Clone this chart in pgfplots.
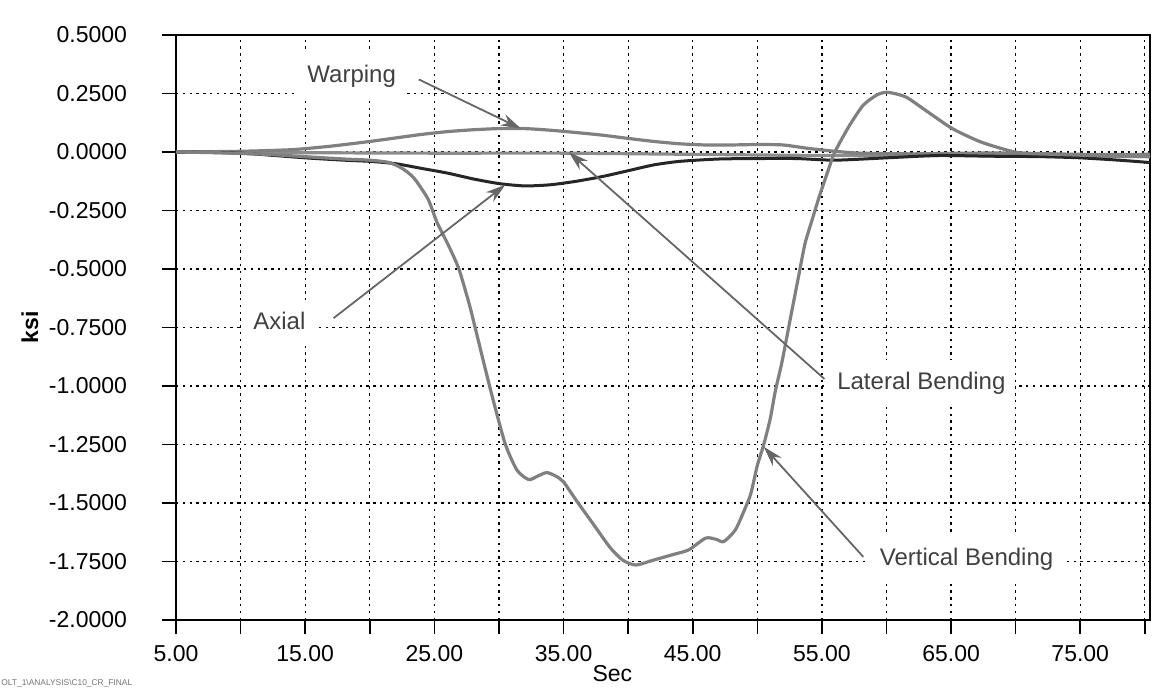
\documentclass[border=0pt]{standalone}
\usepackage{fontspec}
\setmainfont{Liberation Sans}
\usepackage{pgfplots}
\usepackage{pgfplotstable}
\pgfplotsset{compat=1.18}
\usetikzlibrary{arrows.meta}

\pgfplotstableread{
x y
5 0
8 -0.003
12 -0.01
15 -0.02
18 -0.03
20 -0.035
21.5 -0.045
22.5 -0.07
23.4 -0.11
24.5 -0.20
25.2 -0.30
26.1 -0.40
26.9 -0.50
27.7 -0.65
28.2 -0.76
29.0 -0.94
29.6 -1.07
30.5 -1.25
31.4 -1.36
32.3 -1.40
33.0 -1.385
33.7 -1.37
34.4 -1.385
35.0 -1.41
36.0 -1.49
37.3 -1.59
38.6 -1.69
39.6 -1.745
40.6 -1.765
41.9 -1.745
43.5 -1.72
44.7 -1.70
46.0 -1.65
46.8 -1.655
47.4 -1.665
48.3 -1.615
49.0 -1.53
49.5 -1.46
50.0 -1.34
50.5 -1.25
51.0 -1.14
51.4 -1.02
51.9 -0.90
52.6 -0.70
53.2 -0.53
53.7 -0.39
54.3 -0.28
54.8 -0.19
55.6 -0.06
56.0 0.0
57.1 0.11
58.2 0.20
59.3 0.245
60.1 0.255
61.5 0.235
63.1 0.175
65.1 0.10
67.2 0.045
69.2 0.01
70.5 -0.005
73 -0.01
76 -0.015
80.4 -0.02
}\vertical

\pgfplotstableread{
x y
5 0
10 0.003
14 0.01
17 0.025
20 0.045
22 0.06
24 0.075
26 0.087
28 0.095
30 0.10
32 0.10
34 0.093
36 0.083
38 0.072
40 0.058
42 0.045
44 0.035
46 0.03
48 0.03
50 0.032
52 0.03
54 0.015
56 0.003
58 -0.005
62 -0.008
66 -0.005
70 -0.005
75 -0.01
80.4 -0.01
}\warping

\pgfplotstableread{
x y
5 0
15 -0.003
25 -0.005
35 -0.005
45 -0.01
55 -0.015
65 -0.015
80.4 -0.02
}\lateral

\pgfplotstableread{
x y
5 0
10 -0.005
15 -0.025
18 -0.035
20 -0.04
22 -0.05
24 -0.07
26 -0.09
28 -0.115
30 -0.135
32 -0.145
34 -0.14
36 -0.125
38 -0.105
40 -0.08
42 -0.055
44 -0.04
47 -0.03
50 -0.028
53 -0.028
56 -0.035
60 -0.025
64 -0.015
68 -0.018
72 -0.02
75 -0.025
78 -0.035
80.4 -0.045
}\axial

\begin{document}
\begin{tikzpicture}
\begin{axis}[
  name=ax,
  scale only axis,
  width=487pt, height=292.5pt,
  xmin=5, xmax=80.4, ymin=-2, ymax=0.5,
  axis line style={black, line width=0.8pt},
  tick pos=left,
  tick align=outside,
  major tick length=7pt,
  tick style={black, line width=0.8pt},
  xtick={5,10,...,80},
  xticklabels={5.00,,15.00,,25.00,,35.00,,45.00,,55.00,,65.00,,75.00,},
  ytick={-2,-1.75,-1.5,-1.25,-1,-0.75,-0.5,-0.25,0,0.25,0.5},
  yticklabel={\pgfmathprintnumber[fixed,fixed zerofill,precision=4]{\tick}},
  /pgf/number format/assume math mode=true,
  tick label style={font=\fontsize{11.5}{13}\selectfont, black},
  yticklabel shift=14pt,
  xticklabel shift=2pt,
  grid=major,
  major grid style={black, line width=0.6pt, dash pattern=on 1.2pt off 2.2pt},
  xlabel={Sec},
  ylabel={ksi},
  label style={font=\fontsize{11.5}{13}\selectfont},
  xlabel style={at={(axis description cs:0.448,0)}, anchor=center, yshift=-27pt},
  ylabel style={at={(axis description cs:0,0.5)}, anchor=center, yshift=73pt, font=\fontsize{11.5}{13}\selectfont\bfseries},
  every axis plot/.append style={smooth, tension=0.4},
  clip=true,
]
\addplot[color=black!45, line width=1.6pt] table[x=x,y=y] {\lateral};
\addplot[color=black!50, line width=1.6pt] table[x=x,y=y] {\warping};
\addplot[color=black!85, line width=1.5pt] table[x=x,y=y] {\axial};
\addplot[color=black!50, line width=1.6pt] table[x=x,y=y] {\vertical};

\tikzset{lab/.style={fill=white, inner xsep=5pt, inner ysep=6pt, text=black!75, font=\fontsize{12}{14}\selectfont},
         arr/.style={-{Stealth[length=10pt,width=6pt]}, draw=black!60, line width=0.9pt}}
\draw[arr] (axis cs:23.8,0.31) -- (axis cs:31.7,0.10);
\draw[arr] (axis cs:17.2,-0.71) -- (axis cs:30.5,-0.14);
\draw[arr] (axis cs:55.2,-0.97) -- (axis cs:35.4,0.0);
\draw[arr] (axis cs:58.2,-1.73) -- (axis cs:50.5,-1.26);
\node[lab] at (axis cs:18.6,0.325) {Warping};
\node[lab] at (axis cs:13.0,-0.72) {Axial};
\node[lab] at (axis cs:62.7,-0.99) {Lateral Bending};
\node[lab] at (axis cs:66.2,-1.74) {Vertical Bending};
\end{axis}
\pgfresetboundingbox
\path ([shift={(-88pt,-34.5pt)}]ax.south west) rectangle ([shift={(2pt,17.5pt)}]ax.north east);
\node[anchor=south west, inner sep=0.5pt, text=black!55, font=\fontsize{4.2}{5}\selectfont]
  at ([shift={(-88pt,-34.5pt)}]ax.south west) {OLT\_1\textbackslash ANALYSIS\textbackslash C10\_CR\_FINAL};
\end{tikzpicture}
\end{document}
